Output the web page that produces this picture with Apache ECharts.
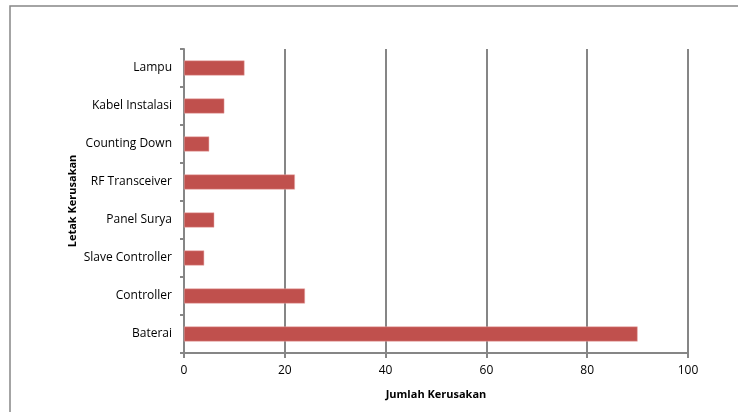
<!DOCTYPE html>
<html>
<head>
<meta charset="utf-8">
<script src="https://cdn.jsdelivr.net/npm/echarts@6/dist/echarts.min.js"></script>
<style>
    html, body { margin: 0; padding: 0; background: #fff; }
    #chart { width: 738px; height: 412px; }
</style>
</head>
<body>
<div id="chart"></div>
<script>
// Data
var categories = ['Baterai', 'Controller', 'Slave Controller', 'Panel Surya',
    'RF Transceiver', 'Counting Down', 'Kabel Instalasi', 'Lampu'];
var kerusakan = [90, 24, 4, 6, 22, 5, 8, 12];
var xTicks = [0, 20, 40, 60, 80, 100];

var chart = echarts.init(document.getElementById('chart'));

chart.setOption({
    animation: false,
    textStyle: {
        fontFamily: '"Open Sans", "Noto Sans", sans-serif'
    },

    // Outer frame
    graphic: [{
        type: 'rect',
        shape: { x: 10, y: 6, width: 740, height: 420 },
        style: { fill: 'none', stroke: '#878787', lineWidth: 1.5 },
        silent: true
    }],

    grid: {
        left: 184,
        right: 50,
        top: 49,
        bottom: 59
    },

    xAxis: {
        type: 'value',
        min: xTicks[0],
        max: xTicks[xTicks.length - 1],
        interval: 20,
        name: 'Jumlah Kerusakan',
        nameLocation: 'middle',
        nameGap: 36,
        nameMoveOverlap: false,
        nameTextStyle: { fontWeight: 'bold', fontSize: 11, color: '#000' },
        axisLine: { show: true, lineStyle: { color: '#868686', width: 2 } },
        axisTick: { show: true, length: 5, lineStyle: { color: '#868686', width: 2 } },
        axisLabel: { color: '#000', fontSize: 12, margin: 12 },
        splitLine: { show: true, lineStyle: { color: '#868686', width: 2 } }
    },

    yAxis: {
        type: 'category',
        data: categories,
        name: 'Letak Kerusakan',
        nameLocation: 'middle',
        nameGap: 106,
        nameMoveOverlap: false,
        nameRotate: 90,
        nameTextStyle: { fontWeight: 'bold', fontSize: 11, color: '#000' },
        axisLine: { show: true, lineStyle: { color: '#868686', width: 2 } },
        axisTick: { show: true, length: 4, alignWithLabel: false, lineStyle: { color: '#868686', width: 2 } },
        axisLabel: { color: '#000', fontSize: 12, margin: 12 },
        splitLine: { show: false }
    },

    series: [{
        name: 'Jumlah Kerusakan',
        type: 'bar',
        data: kerusakan,
        barWidth: 15,
        itemStyle: {
            color: '#c0504d',
            borderColor: '#e8a9a8',
            borderWidth: 0.5
        }
    }]
});
</script>
</body>
</html>
